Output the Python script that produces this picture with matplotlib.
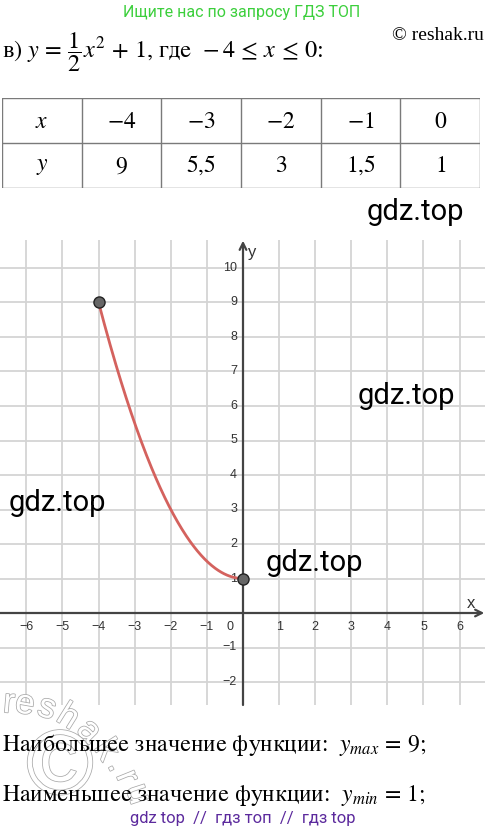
import numpy as np
import matplotlib.pyplot as plt
import matplotlib.patheffects as pe
from matplotlib.transforms import offset_copy

# table values
x_vals = [-4, -3, -2, -1, 0]
y_vals = [9, 5.5, 3, 1.5, 1]
x_lbls = ['$-4$', '$-3$', '$-2$', '$-1$', '$0$']
y_lbls = ['$9$', '$5{,}5$', '$3$', '$1{,}5$', '$1$']

# function shown in the chart: y = 1/2 x^2 + 1 on [-4, 0]
a_coef, c_coef = 0.5, 1
x_from, x_to = -4, 0

# grid ticks
x_ticks = [-6, -5, -4, -3, -2, -1, 1, 2, 3, 4, 5, 6]
y_ticks = [-2, -1, 1, 2, 3, 4, 5, 6, 7, 8, 9, 10]

W, H = 487, 834
plt.rcParams['mathtext.fontset'] = 'stix'
fig = plt.figure(figsize=(W / 100, H / 100), dpi=100)


def px(x, y):
    return x / W, 1 - y / H


# top lines
fig.text(*px(242, 12), 'Ищите нас по запросу ГДЗ ТОП', color='#3ccf3c',
         fontsize=11.5, family='Roboto', ha='center', va='center')
fig.text(*px(484, 35), '© reshak.ru', fontsize=14, family='Liberation Serif',
         ha='right', va='center')
fig.text(*px(2, 52), r'в) $y\,=\,\dfrac{1}{2}x^2\,+\,1$, где  $-\,4\,\leq\,x\,\leq\,0$:',
         fontsize=17.5, family='STIXGeneral', ha='left', va='center')

# table
tab = fig.add_axes([2 / W, 1 - 188 / H, 478 / W, 90 / H])
tab.set_xlim(0, 6)
tab.set_ylim(0, 2)
tab.axis('off')
for i in range(7):
    tab.plot([i, i], [0, 2], color='#7a7a7a', lw=1)
for j in range(3):
    tab.plot([0, 6], [j, j], color='#7a7a7a', lw=1)
tab.text(0.5, 1.5, '$x$', fontsize=17, ha='center', va='center')
tab.text(0.5, 0.5, '$y$', fontsize=17, ha='center', va='center')
for i in range(5):
    tab.text(i + 1.5, 1.5, x_lbls[i], fontsize=17, ha='center', va='center')
    tab.text(i + 1.5, 0.5, y_lbls[i], fontsize=17, ha='center', va='center')

# graph
x0, y0 = 243, 613
sx, sy = 36.1, 34.5
left, right, top, bottom = 0, 485, 240, 705
ax = fig.add_axes([left / W, 1 - bottom / H, (right - left) / W, (bottom - top) / H])
ax.set_xlim((left - x0) / sx, (right - x0) / sx)
ax.set_ylim((y0 - bottom) / sy, (y0 - top) / sy)
ax.axis('off')

for t in x_ticks:
    ax.axvline(t, color='#d4d4d4', lw=1.3, zorder=1)
for t in y_ticks:
    ax.axhline(t, color='#d4d4d4', lw=1.3, zorder=1)

xl, xr = ax.get_xlim()
yb, yt = ax.get_ylim()
ax.annotate('', xy=(xr - 0.02, 0), xytext=(xl, 0),
            arrowprops=dict(arrowstyle='->', color='#444444', lw=1.6,
                            mutation_scale=12, shrinkA=0, shrinkB=0), zorder=3)
ax.annotate('', xy=(0, yt - 0.02), xytext=(0, yb),
            arrowprops=dict(arrowstyle='->', color='#444444', lw=1.6,
                            mutation_scale=12, shrinkA=0, shrinkB=0), zorder=3)

tr_x = offset_copy(ax.transData, fig=fig, x=0, y=-14, units='dots')
for t in x_ticks:
    ax.text(t, 0, str(t).replace('-', '\u2212'), transform=tr_x, fontsize=9,
            family='Liberation Sans', color='#333333', ha='center', va='center')
ax.text(0, 0, '0', transform=offset_copy(ax.transData, fig=fig, x=-13, y=-14, units='dots'),
        fontsize=9, family='Liberation Sans', color='#333333', ha='center', va='center')
tr_y = offset_copy(ax.transData, fig=fig, x=-6, y=0, units='dots')
for t in y_ticks:
    ax.text(0, t, str(t).replace('-', '\u2212'), transform=tr_y, fontsize=9,
            family='Liberation Sans', color='#333333', ha='right', va='center')
ax.text((471 - x0) / sx, (y0 - 603) / sy, 'x', fontsize=12, family='Liberation Sans',
        color='#333333', ha='center', va='center')
ax.text((252 - x0) / sx, (y0 - 253) / sy, 'y', fontsize=12, family='Liberation Sans',
        color='#333333', ha='center', va='center')

xs = np.linspace(x_from, x_to, 200)
ax.plot(xs, a_coef * xs ** 2 + c_coef, color='#d4625e', lw=2, zorder=4)
ax.plot([x_vals[0], x_vals[-1]], [y_vals[0], y_vals[-1]], 'o', ms=8,
        mfc='#666666', mec='#222222', mew=1, zorder=5)

# watermarks
for (wx, wy) in [(415, 212), (406, 396), (57, 503), (314, 563)]:
    fig.text(*px(wx, wy), 'gdz.top', fontsize=21, family='Roboto',
             ha='center', va='center', zorder=10)

# reshak outline watermark, letters along an arc
outline = [pe.Stroke(linewidth=1.1, foreground='#a8a8a8'), pe.Normal()]
arc = [('r', 9, 703, -5), ('e', 25, 704, -10), ('s', 47, 708, -18),
       ('h', 68, 717, -32), ('a', 89, 731, -45), ('k', 106, 750, -57),
       ('.', 118, 765, -63), ('r', 127, 777, -68), ('u', 138, 794, -72)]
for ch, cx, cy, rot in arc:
    fig.text(*px(cx, cy), ch, fontsize=25, family='Liberation Sans', color='white',
             rotation=rot, rotation_mode='anchor', ha='center', va='center',
             path_effects=outline, zorder=6)
fig.text(*px(60, 770), '©', fontsize=66, family='Liberation Sans',
         color='white', ha='center', va='center', path_effects=outline, zorder=6)

# bottom lines
fig.text(*px(2, 745), r'Наибольшее значение функции:  $y_{max}\,=\,9$;',
         fontsize=17, family='STIXGeneral', ha='left', va='center', zorder=7)
fig.text(*px(2, 795), r'Наименьшее значение функции:  $y_{min}\,=\,1$;',
         fontsize=17, family='STIXGeneral', ha='left', va='center', zorder=7)
fig.text(*px(243, 819), 'gdz top  //  гдз топ  //  гдз top', color='#5c2a9d',
         fontsize=12, family='Roboto', ha='center', va='center', zorder=7)

fig.savefig('out.png', dpi=100)
